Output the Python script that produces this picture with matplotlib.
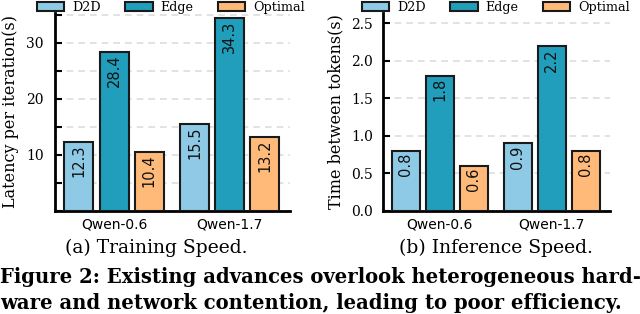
import numpy as np
import matplotlib
matplotlib.use('Agg')
import matplotlib.pyplot as plt
from matplotlib.ticker import MultipleLocator

models = ['Qwen-0.6', 'Qwen-1.7']
methods = ['D2D', 'Edge', 'Optimal']
colors = ['#8ECAE6', '#219EBC', '#FFBA7A']

train_d2d = [12.3, 15.5]
train_edge = [28.4, 34.3]
train_opt = [10.4, 13.2]

infer_d2d = [0.8, 0.9]
infer_edge = [1.8, 2.2]
infer_opt = [0.6, 0.8]

plt.rcParams['font.family'] = 'DejaVu Serif'

fig = plt.figure(figsize=(6.4, 3.14), dpi=100)
ax1 = fig.add_axes([0.086, 0.329, 0.367, 0.63])
ax2 = fig.add_axes([0.598, 0.329, 0.355, 0.63])


def draw(ax, series, ylim, ylabel, major, minor=None):
    x = np.arange(len(models))
    width = 0.25
    pitch = 0.304
    for i, vals in enumerate(series):
        b = ax.bar(x + (i - 1) * pitch, vals, width, color=colors[i],
                   edgecolor='#1a1a1a', linewidth=1.5, label=methods[i], zorder=3)
        for rect, v in zip(b, vals):
            ax.text(rect.get_x() + rect.get_width() / 2, v - ylim[1] * 0.012,
                    '{}'.format(v), rotation=90, ha='center', va='top',
                    fontsize=10.5, family='DejaVu Sans', color='#111111', zorder=4)
    ax.set_xticks(x)
    ax.set_xticklabels(models, family='DejaVu Sans', fontsize=11)
    ax.set_xlim(-0.51, 1.52)
    ax.set_ylim(*ylim)
    ax.yaxis.set_major_locator(MultipleLocator(major))
    if minor:
        ax.yaxis.set_minor_locator(MultipleLocator(minor))
        ax.grid(axis='y', which='minor', linestyle=(0, (4, 3)), color='#dddddd', linewidth=1.2, zorder=0)
        ax.tick_params(axis='y', which='minor', direction='in', length=5, width=1.5)
    ax.grid(axis='y', which='major', linestyle=(0, (4, 3)), color='#dddddd', linewidth=1.2, zorder=0)
    ax.tick_params(axis='both', which='major', direction='in', length=5, width=1.5, labelsize=10)
    ax.tick_params(axis='x', pad=5)
    ax.tick_params(axis='y', pad=8)
    ax.set_ylabel(ylabel, fontsize=11.5, labelpad=5)
    for s in ['top', 'right']:
        ax.spines[s].set_visible(False)
    for s in ['left', 'bottom']:
        ax.spines[s].set_linewidth(2)


draw(ax1, [train_d2d, train_edge, train_opt], (0, 35.3), 'Latency per iteration(s)', 10, 5)
ax1.yaxis.set_major_locator(plt.FixedLocator([10, 20, 30]))
draw(ax2, [infer_d2d, infer_edge, infer_opt], (0, 2.64), 'Time between tokens(s)', 0.5)
ax2.yaxis.set_major_formatter(plt.FormatStrFormatter('%.1f'))
ax2.tick_params(axis='y', pad=7)

for ax, cx in [(ax1, 0.267), (ax2, 0.775)]:
    ax.legend(loc='center', bbox_to_anchor=(cx, 0.976), bbox_transform=fig.transFigure,
              ncol=3, frameon=False, fontsize=9.2, handlelength=2.15, handleheight=0.6,
              columnspacing=1.9, handletextpad=0.62, borderaxespad=0, borderpad=0.1)

fig.text(0.244, 0.21, '(a) Training Speed.', ha='center', va='center',
         fontsize=13.5, family='DejaVu Serif')
fig.text(0.775, 0.21, '(b) Inference Speed.', ha='center', va='center',
         fontsize=13.5, family='DejaVu Serif')
fig.text(0.0, 0.118, 'Figure 2: Existing advances overlook heterogeneous hard-',
         ha='left', va='center', fontsize=14.1, weight='bold', family='DejaVu Serif')
fig.text(0.0, 0.035, 'ware and network contention, leading to poor efficiency.',
         ha='left', va='center', fontsize=14.1, weight='bold', family='DejaVu Serif')

fig.savefig('out.png', dpi=100)
